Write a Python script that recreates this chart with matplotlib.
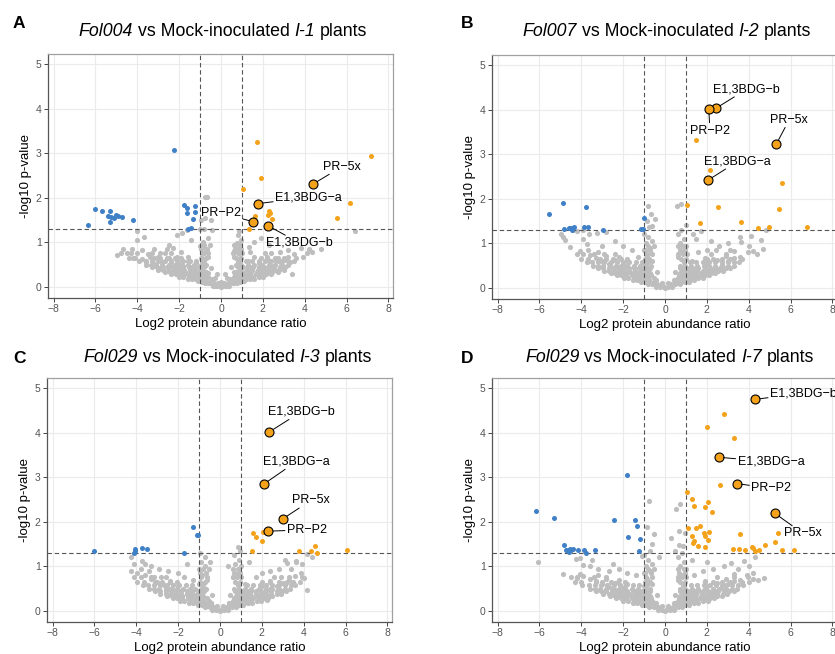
import numpy as np
import matplotlib.pyplot as plt

plt.rcParams['font.family'] = ['Liberation Sans', 'DejaVu Sans']

W, H = 835, 654

GREY = '#bebebe'
BLUE = '#3f80c7'
ORANGE = '#f5a21b'

# ---- values: (log2 ratio, -log10 p) ----
# scattered non-significant proteins
grey_a = [
    (0, 0.0), (-0.3, 0.03), (0.3, 0.03), (-0.6, 0.08), (0.6, 0.08), (-0.15, 0.08), (0.15, 0.08),
    (-0.9, 0.12), (-0.45, 0.14), (0, 0.12), (0.45, 0.14), (0.9, 0.12), (-1.2, 0.17), (1.2, 0.17),
    (-1.5, 0.22), (-1.1, 0.24), (-0.7, 0.22), (-0.3, 0.2), (0.3, 0.2), (0.7, 0.22), (1.1, 0.24), (1.5, 0.22),
    (-1.8, 0.28), (1.8, 0.27), (-2.2, 0.32), (-1.8, 0.36), (-1.4, 0.33), (-1.0, 0.35), (-0.6, 0.32),
    (-0.2, 0.3), (0.2, 0.3), (0.6, 0.34), (1.0, 0.33), (1.4, 0.35), (1.8, 0.36), (2.2, 0.33), (2.6, 0.37),
    (-3.0, 0.42), (-2.6, 0.45), (-2.2, 0.44), (-1.8, 0.46), (-1.4, 0.44), (-0.9, 0.45), (-0.5, 0.43),
    (0.5, 0.44), (0.9, 0.46), (1.5, 0.45), (2.0, 0.44), (2.5, 0.46), (3.0, 0.43), (3.4, 0.3),
    (-3.6, 0.55), (-3.2, 0.52), (-2.8, 0.55), (-2.4, 0.56), (-2.0, 0.53), (-1.6, 0.57), (-1.2, 0.54),
    (-0.8, 0.56), (0.8, 0.55), (1.3, 0.57), (1.8, 0.54), (2.3, 0.57), (2.8, 0.55), (3.3, 0.56), (3.0, 0.6),
    (-4.2, 0.65), (-3.8, 0.62), (-3.4, 0.66), (-3.0, 0.68), (-2.5, 0.64), (-2.1, 0.67), (-1.6, 0.68),
    (-0.9, 0.65), (-0.6, 0.68), (0.6, 0.67), (0.9, 0.64), (1.6, 0.66), (2.2, 0.68), (2.7, 0.65), (3.2, 0.67),
    (3.9, 0.67), (-4.99, 0.71), (-4.5, 0.75), (-4.0, 0.76), (-3.5, 0.74), (-2.9, 0.77), (-2.4, 0.75),
    (-1.9, 0.78), (-0.8, 0.76), (0.62, 0.8), (0.85, 0.75), (1.4, 0.78), (2.1, 0.76), (2.8, 0.78), (3.5, 0.74),
    (4.37, 0.79), (4.1, 0.75), (-4.69, 0.86), (-4.24, 0.84), (-3.8, 0.83), (-3.2, 0.86), (-2.6, 0.84),
    (-2.3, 0.88), (-0.7, 0.86), (0.8, 0.88), (1.34, 0.9), (3.8, 0.88), (4.2, 0.86), (4.76, 0.86), (3.2, 0.83),
    (-4.03, 1.06), (-3.68, 1.11), (-2.09, 1.16), (-1.85, 1.2), (-1.45, 1.05), (-0.85, 1.0), (-0.6, 1.1),
    (0.81, 1.16), (0.94, 1.05), (0.75, 0.98), (1.6, 1.0), (2.3, 0.95), (1.9, 1.1), (-1.0, 0.92), (-2.5, 0.95),
    (-4.03, 1.25), (-1.61, 1.27), (-1.0, 1.31), (-0.8, 1.29), (-0.41, 1.27), (-0.97, 1.5), (-0.46, 1.5),
    (-0.78, 2.01), (-0.65, 2.01), (6.4, 1.25), (0.85, 1.25), (-0.75, 1.55),
]
# dense V-shaped core, one row per -log10 p level
core_a = [
    (0.03, [-0.4, -0.2, 0, 0.2, 0.4]),
    (0.08, [-0.75, -0.55, -0.35, 0.35, 0.55, 0.75]),
    (0.13, [-1.1, -0.9, -0.7, -0.5, 0.5, 0.7, 0.9, 1.1]),
    (0.18, [-1.6, -1.4, -1.2, -0.95, -0.75, -0.45, 0.45, 0.75, 0.95, 1.2, 1.4, 1.6]),
    (0.23, [-2.0, -1.8, -1.55, -1.3, -1.05, -0.85, -0.6, 0.6, 0.85, 1.05, 1.3, 1.55, 1.8, 2.0]),
    (0.28, [-2.4, -2.15, -1.9, -1.65, -1.4, -1.15, -0.9, -0.65, 0.65, 0.9, 1.15, 1.4, 1.65, 1.9, 2.15, 2.4]),
    (0.33, [-2.7, -2.45, -2.2, -1.95, -1.7, -1.45, -1.2, -0.95, -0.7, 0.7, 0.95, 1.2, 1.45, 1.7, 1.95,
            2.2, 2.45, 2.7]),
    (0.38, [-3.0, -2.75, -2.5, -2.25, -2.0, -1.75, -1.5, -1.25, -0.9, 0.9, 1.25, 1.5, 1.75, 2.0, 2.25,
            2.5, 2.75, 3.0]),
    (0.44, [-3.3, -3.05, -2.8, -2.55, -2.3, -2.05, -1.8, -1.55, -1.3, -1.05, -0.8, 0.8, 1.05, 1.3, 1.55,
            1.8, 2.05, 2.3, 2.55, 2.8, 3.05]),
    (0.5, [-3.6, -3.35, -3.1, -2.8, -2.5, -2.2, -1.9, -1.6, -1.3, -0.95, -0.7, 0.7, 0.95, 1.3, 1.6, 1.95,
           2.3, 2.6, 2.9, 3.2]),
    (0.57, [-3.9, -3.6, -3.3, -3.0, -2.7, -2.4, -2.1, -1.8, -1.5, -1.2, -0.85, 0.85, 1.2, 1.5, 1.8, 2.1,
            2.4, 2.65, 2.9, 3.2, 3.5]),
    (0.65, [-4.4, -4.1, -3.2, -2.9, -2.6, -2.2, -1.9, -0.95, -0.7, 0.7, 0.95, 1.9, 2.2, 2.6, 3.0, 3.6]),
    (0.75, [-4.8, -4.3, -3.3, -2.7, -0.9, -0.6, 0.55, 0.8, 1.0, 2.4]),
    (0.85, [-0.95, -0.65, 0.65, 0.95]),
    (0.95, [-0.8, -0.55, 0.6, 0.9]),
]
blue_a = [
    (-2.26, 3.08), (-6.02, 1.76), (-6.36, 1.39), (-5.71, 1.71), (-5.31, 1.70), (-5.40, 1.59), (-5.27, 1.56),
    (-5.32, 1.46), (-5.12, 1.54), (-4.91, 1.59), (-4.75, 1.57), (-5.04, 1.61), (-4.19, 1.50), (-1.78, 1.84),
    (-1.64, 1.78), (-1.23, 1.81), (-1.64, 1.67), (-1.23, 1.69), (-1.32, 1.52), (-1.56, 1.30), (-1.45, 1.33),
]
orange_a = [
    (1.71, 3.26), (1.90, 2.44), (1.07, 2.19), (7.16, 2.95), (6.15, 1.88), (5.53, 1.55), (1.61, 1.59),
    (2.29, 1.71), (2.33, 1.65), (2.26, 1.61), (2.45, 1.52), (1.35, 1.30),
]
names_a = ['PR−5x', 'E1,3BDG−a', 'PR−P2', 'E1,3BDG−b']
hl_a = [(4.40, 2.31), (1.77, 1.87), (1.55, 1.46), (2.26, 1.37)]

grey_b = [
    (0, 0.0), (-0.3, 0.04), (0.3, 0.04), (-0.15, 0.1), (0.15, 0.1), (-0.6, 0.1), (0.6, 0.1), (-0.45, 0.18),
    (0.45, 0.18), (-0.9, 0.15), (0.9, 0.16), (-1.2, 0.2), (1.2, 0.22), (-0.8, 0.28), (0.8, 0.3), (-1.5, 0.28),
    (1.5, 0.28), (-1.1, 0.36), (1.1, 0.38), (-1.8, 0.34), (1.8, 0.32), (-2.1, 0.4), (2.1, 0.38), (-1.5, 0.44),
    (1.5, 0.45), (-2.4, 0.46), (2.4, 0.45), (-2.0, 0.52), (2.0, 0.55), (-2.7, 0.54), (2.7, 0.52), (-2.4, 0.62),
    (2.5, 0.63), (-3.0, 0.6), (3.0, 0.6), (-3.3, 0.66), (3.3, 0.66), (-2.8, 0.72), (2.9, 0.72), (-3.6, 0.74),
    (3.6, 0.7), (-3.2, 0.8), (3.3, 0.82), (-3.67, 0.84), (3.95, 0.81), (4.19, 0.83), (2.45, 0.85), (3.1, 0.85),
    (-1.8, 0.6), (1.9, 0.68), (-2.2, 0.7), (-0.9, 0.3), (-0.7, 0.45), (-1.0, 0.55), (-0.6, 0.6), (-0.85, 0.72),
    (-1.0, 0.85), (-0.7, 0.9), (-0.9, 1.0), (-0.6, 1.05), (-0.8, 1.15), (-1.0, 1.2), (0.7, 0.45), (0.9, 0.58),
    (0.6, 0.7), (0.85, 0.8), (1.0, 0.95), (0.7, 1.0), (0.9, 1.1), (0.6, 1.2), (0.5, 0.35), (-0.4, 0.35),
    (-0.81, 1.83), (-0.65, 1.66), (-0.86, 1.51), (-0.49, 1.55), (-0.76, 1.36), (0.57, 1.84), (0.78, 1.88),
    (0.99, 1.41), (1.34, 1.21), (1.74, 1.27), (1.5, 1.1), (2.2, 1.05), (-0.6, 1.4), (0.75, 1.3),
    (-4.95, 1.21), (-4.87, 1.14), (-4.79, 1.08), (-4.55, 0.91), (-4.23, 1.28), (-4.07, 0.82), (-3.91, 1.09),
    (-3.75, 0.98), (-3.63, 1.21), (-3.27, 1.23), (-2.8, 1.26), (-2.4, 1.05), (-2.0, 0.95), (-3.0, 0.95),
    (-1.6, 0.85), (-1.3, 0.7), (-4.4, 1.3), (-3.9, 1.3), (3.57, 1.14), (3.65, 1.02), (4.13, 1.17), (4.6, 1.08),
    (4.81, 1.29), (4.0, 0.95), (3.0, 1.0), (4.4, 0.75), (4.7, 0.88), (2.6, 0.95), (1.3, 0.6), (1.6, 0.8),
    (2.0, 0.85),
]
core_b = [
    (0.03, [-0.45, -0.25, -0.05, 0.15, 0.35]),
    (0.08, [-0.8, -0.6, -0.4, 0.3, 0.5, 0.7]),
    (0.13, [-1.15, -0.95, -0.75, -0.55, 0.55, 0.75, 0.95, 1.15]),
    (0.18, [-1.55, -1.35, -1.15, -0.95, -0.75, -0.5, 0.5, 0.8, 1.0, 1.2, 1.4]),
    (0.23, [-1.95, -1.75, -1.5, -1.25, -1.0, -0.8, -0.55, 0.6, 0.85, 1.1, 1.35, 1.6, 1.8]),
    (0.28, [-2.3, -2.1, -1.85, -1.6, -1.35, -1.1, -0.9, -0.65, 0.65, 0.9, 1.15, 1.4, 1.65, 1.9, 2.1]),
    (0.33, [-2.6, -2.4, -2.15, -1.9, -1.65, -1.4, -1.15, -0.9, -0.7, 0.7, 0.9, 1.2, 1.45, 1.7, 1.95, 2.2,
            2.4]),
    (0.38, [-2.9, -2.7, -2.45, -2.2, -1.95, -1.7, -1.45, -1.2, -0.85, 0.85, 1.3, 1.55, 1.8, 2.05, 2.3,
            2.55, 2.75]),
    (0.44, [-3.2, -2.95, -2.7, -2.45, -2.2, -1.95, -1.7, -1.45, -1.2, -1.0, -0.75, 0.8, 1.05, 1.3, 1.6,
            1.9, 2.15, 2.4, 2.65, 2.9, 3.1]),
    (0.5, [-3.45, -3.2, -2.95, -2.65, -2.35, -2.1, -1.8, -1.5, -1.2, -0.9, -0.65, 0.7, 0.95, 1.25, 1.55,
           1.85, 2.1, 2.4, 2.7, 3.0, 3.3]),
    (0.57, [-3.75, -3.5, -3.2, -2.9, -2.6, -2.3, -2.0, -1.7, -1.4, -1.1, -0.8, 0.9, 1.2, 1.5, 1.8, 2.1,
            2.4, 2.7, 3.0, 3.3, 3.55]),
    (0.65, [-4.0, -3.7, -3.1, -2.8, -2.5, -2.1, -1.8, -0.95, -0.75, 0.75, 1.0, 2.0, 2.3, 2.7, 3.1, 3.7]),
    (0.75, [-4.2, -3.9, -3.4, -2.9, -2.4, -0.85, -0.6, 0.6, 0.85, 1.05, 2.2, 2.9]),
    (0.85, [-0.95, -0.7, 0.7, 0.95]),
    (0.95, [-0.8, -0.55, 0.6, 0.85]),
]
blue_b = [
    (-4.88, 1.91), (-5.56, 1.67), (-3.79, 1.81), (-4.81, 1.32), (-4.59, 1.34), (-4.48, 1.35), (-4.37, 1.36),
    (-4.43, 1.29), (-3.87, 1.37), (-3.68, 1.37), (-2.95, 1.29), (-1.02, 1.57), (-1.16, 1.33), (-1.04, 1.33),
]
orange_b = [
    (1.47, 3.31), (2.14, 2.64), (5.61, 2.36), (1.05, 1.85), (2.52, 1.81), (5.43, 1.77), (1.67, 1.45),
    (3.63, 1.49), (4.45, 1.34), (4.97, 1.36), (6.79, 1.37),
]
names_b = ['E1,3BDG−b', 'PR−P2', 'PR−5x', 'E1,3BDG−a']
hl_b = [(2.42, 4.03), (2.09, 4.02), (5.32, 3.23), (2.06, 2.42)]

grey_c = [
    (0, 0.0), (-0.3, 0.04), (0.3, 0.04), (-0.15, 0.1), (0.15, 0.1), (-0.6, 0.1), (0.6, 0.1), (-0.45, 0.18),
    (0.45, 0.18), (-0.9, 0.15), (0.9, 0.15), (-1.2, 0.2), (1.2, 0.22), (-0.8, 0.28), (0.8, 0.28), (-1.5, 0.26),
    (1.5, 0.28), (-1.1, 0.36), (1.1, 0.36), (-1.8, 0.34), (1.8, 0.33), (-2.1, 0.42), (2.1, 0.4), (-1.5, 0.45),
    (1.5, 0.44), (-2.4, 0.5), (2.4, 0.48), (-2.0, 0.55), (2.0, 0.55), (-2.7, 0.58), (2.7, 0.56), (-2.4, 0.66),
    (2.4, 0.66), (-3.0, 0.64), (3.0, 0.62), (-3.3, 0.72), (3.3, 0.7), (-2.8, 0.76), (2.9, 0.76), (-3.6, 0.8),
    (3.6, 0.78), (-3.16, 0.77), (-3.4, 0.89), (-3.99, 0.85), (-4.24, 0.9), (2.26, 0.25), (4.02, 0.74),
    (4.18, 0.47), (3.85, 0.85), (-0.9, 0.35), (-0.7, 0.5), (-1.0, 0.6), (-0.6, 0.7), (-0.85, 0.8), (-1.0, 0.95),
    (-0.7, 1.0), (-0.9, 1.1), (0.7, 0.45), (0.9, 0.6), (0.6, 0.75), (0.85, 0.85), (1.0, 1.0), (0.7, 1.05),
    (0.9, 1.15), (0.5, 0.35), (-0.4, 0.35), (1.2, 0.6), (-1.3, 0.7), (-0.96, 1.3), (-0.73, 1.22), (0.67, 1.26),
    (0.86, 1.43), (0.95, 1.35), (-0.5, 1.1), (0.4, 1.0), (1.4, 1.1), (-1.6, 1.05), (-4.27, 1.21), (-3.72, 1.11),
    (-3.6, 1.05), (-4.1, 1.05), (-3.3, 1.0), (-2.9, 0.95), (-2.5, 0.9), (-2.0, 0.85), (-1.7, 0.75), (-3.8, 0.95),
    (3.22, 1.07), (3.62, 1.1), (3.94, 1.05), (4.17, 1.28), (3.61, 1.11), (3.4, 0.95), (2.8, 0.95), (2.4, 0.9),
    (2.0, 0.85), (1.7, 0.75), (3.1, 1.15), (4.4, 1.2),
]
core_c = [
    (0.03, [-0.4, -0.2, 0, 0.2, 0.4]),
    (0.08, [-0.7, -0.5, -0.3, 0.35, 0.55, 0.75]),
    (0.13, [-1.05, -0.85, -0.65, -0.45, 0.5, 0.7, 0.9, 1.1]),
    (0.18, [-1.5, -1.3, -1.1, -0.9, -0.7, -0.45, 0.45, 0.75, 0.95, 1.15, 1.35, 1.55]),
    (0.23, [-1.9, -1.7, -1.45, -1.2, -1.0, -0.8, -0.55, 0.6, 0.85, 1.05, 1.3, 1.5, 1.75, 1.95]),
    (0.28, [-2.25, -2.05, -1.8, -1.55, -1.3, -1.05, -0.85, -0.6, 0.65, 0.9, 1.1, 1.35, 1.6, 1.85, 2.1,
            2.3]),
    (0.33, [-2.55, -2.3, -2.05, -1.8, -1.55, -1.3, -1.05, -0.8, 0.75, 1.0, 1.25, 1.5, 1.75, 2.0, 2.25,
            2.5]),
    (0.38, [-2.85, -2.6, -2.35, -2.1, -1.85, -1.6, -1.35, -1.1, -0.85, 0.85, 1.2, 1.45, 1.7, 1.95, 2.2,
            2.45, 2.7, 2.9]),
    (0.44, [-3.1, -2.85, -2.6, -2.35, -2.1, -1.85, -1.6, -1.35, -1.0, -0.75, 0.8, 1.05, 1.35, 1.7, 1.95,
            2.2, 2.45, 2.7, 2.95, 3.15]),
    (0.5, [-3.4, -3.15, -2.9, -2.6, -2.3, -2.05, -1.75, -1.45, -1.2, -0.9, -0.65, 0.65, 0.9, 1.2, 1.5,
           1.85, 2.2, 2.5, 2.8, 3.1, 3.35]),
    (0.57, [-3.7, -3.45, -3.15, -2.85, -2.55, -2.25, -1.95, -1.65, -1.35, -0.8, 0.85, 1.3, 1.6, 1.9,
            2.2, 2.5, 2.8, 3.1, 3.4, 3.6]),
    (0.65, [-3.95, -3.65, -3.1, -2.75, -2.4, -2.05, -0.95, -0.7, 0.7, 0.95, 2.0, 2.4, 2.8, 3.2, 3.5,
            3.8]),
    (0.75, [-4.1, -3.8, -3.3, -2.6, -0.9, -0.6, 0.6, 0.8, 1.0, 2.6, 3.3, 3.9]),
    (0.85, [-0.95, -0.65, 0.65, 0.95]),
    (0.95, [-0.8, -0.55, 0.6, 0.85]),
]
blue_c = [
    (-6.0, 1.34), (-4.07, 1.39), (-4.08, 1.35), (-4.10, 1.29), (-3.75, 1.41), (-3.51, 1.40), (-1.71, 1.30),
    (-1.29, 1.89), (-1.10, 1.70), (-1.05, 1.70),
]
orange_c = [
    (1.56, 1.76), (1.71, 1.67), (2.06, 1.77), (2.03, 1.58), (1.55, 1.34), (3.78, 1.34), (4.34, 1.34),
    (4.55, 1.45), (4.64, 1.31), (6.09, 1.36),
]
names_c = ['E1,3BDG−b', 'E1,3BDG−a', 'PR−5x', 'PR−P2']
hl_c = [(2.36, 4.02), (2.10, 2.85), (3.01, 2.07), (2.30, 1.79)]

grey_d = [
    (0, 0.0), (-0.3, 0.04), (0.3, 0.04), (-0.15, 0.1), (0.15, 0.1), (-0.6, 0.1), (0.6, 0.1), (-0.45, 0.18),
    (0.45, 0.18), (-0.9, 0.15), (0.9, 0.16), (-1.2, 0.2), (1.2, 0.22), (-0.8, 0.28), (0.8, 0.3), (-1.5, 0.28),
    (1.5, 0.28), (-1.1, 0.36), (1.1, 0.38), (-1.8, 0.34), (1.8, 0.32), (-2.1, 0.4), (2.1, 0.38), (-1.5, 0.44),
    (1.5, 0.45), (-2.4, 0.46), (2.4, 0.45), (-2.0, 0.52), (2.0, 0.55), (-2.7, 0.54), (2.7, 0.52), (-2.4, 0.62),
    (2.5, 0.63), (-3.0, 0.6), (3.0, 0.6), (-3.3, 0.66), (3.3, 0.66), (-2.8, 0.72), (2.9, 0.72), (-3.6, 0.72),
    (3.6, 0.7), (-3.2, 0.8), (3.3, 0.82), (-3.9, 0.78), (3.9, 0.8), (-4.2, 0.74), (4.2, 0.72), (-1.8, 0.6),
    (1.9, 0.68), (-2.2, 0.7), (-0.9, 0.3), (-0.7, 0.45), (-1.0, 0.55), (-0.6, 0.6), (-0.85, 0.72), (-1.0, 0.85),
    (-0.7, 0.9), (-0.9, 1.0), (-0.6, 1.05), (-0.8, 1.15), (-1.0, 1.25), (0.7, 0.45), (0.9, 0.58), (0.6, 0.7),
    (0.85, 0.8), (1.0, 0.95), (0.7, 1.0), (0.9, 1.1), (0.6, 1.2), (0.5, 0.35), (-0.4, 0.35), (0.8, 1.3),
    (-0.7, 1.35), (-0.78, 2.46), (-0.86, 1.89), (-0.51, 1.72), (-0.6, 1.5), (0.54, 2.29), (0.70, 2.41),
    (0.29, 1.64), (0.68, 1.79), (0.68, 1.49), (0.84, 1.45), (-1.11, 1.24), (0.5, 1.35), (0.95, 1.75),
    (-0.3, 1.2), (-6.08, 1.09), (-4.88, 0.83), (-4.24, 1.17), (-4.08, 1.18), (-3.92, 1.04), (-4.08, 0.83),
    (-3.6, 1.0), (-3.2, 0.95), (-2.7, 0.9), (-2.2, 0.95), (-1.8, 0.85), (-1.4, 0.8), (-3.5, 1.15), (-2.5, 1.05),
    (3.15, 1.08), (3.79, 1.13), (4.19, 0.85), (4.43, 0.7), (4.75, 0.74), (4.3, 1.21), (3.5, 0.95), (2.8, 1.0),
    (2.3, 0.95), (1.8, 0.9), (1.4, 0.8), (4.0, 1.0), (2.0, 1.1), (1.3, 1.15),
]
core_d = [
    (0.03, [-0.35, -0.15, 0.05, 0.25, 0.45]),
    (0.08, [-0.75, -0.55, -0.35, 0.4, 0.6, 0.8]),
    (0.13, [-1.1, -0.9, -0.7, -0.5, 0.55, 0.75, 0.95, 1.15]),
    (0.18, [-1.55, -1.35, -1.15, -0.95, -0.75, -0.5, 0.5, 0.75, 0.95, 1.15, 1.4, 1.6]),
    (0.23, [-2.0, -1.75, -1.5, -1.25, -1.05, -0.85, -0.6, 0.6, 0.85, 1.05, 1.3, 1.55, 1.8, 2.05]),
    (0.28, [-2.35, -2.1, -1.85, -1.6, -1.35, -1.1, -0.9, -0.65, 0.65, 0.9, 1.15, 1.4, 1.65, 1.9, 2.15,
            2.35]),
    (0.33, [-2.65, -2.4, -2.15, -1.9, -1.65, -1.4, -1.15, -0.9, -0.7, 0.7, 0.95, 1.2, 1.45, 1.7, 2.0,
            2.25, 2.5, 2.7]),
    (0.38, [-2.95, -2.7, -2.45, -2.2, -1.95, -1.7, -1.45, -1.2, -0.9, 0.9, 1.25, 1.5, 1.75, 2.0, 2.25,
            2.5, 2.75, 2.95]),
    (0.44, [-3.3, -3.05, -2.8, -2.55, -2.3, -2.05, -1.8, -1.55, -1.3, -1.1, -0.8, 0.8, 1.1, 1.35, 1.6,
            1.8, 2.05, 2.3, 2.55, 2.8, 3.05, 3.3]),
    (0.5, [-3.6, -3.35, -3.1, -2.8, -2.5, -2.2, -1.9, -1.6, -1.3, -0.95, -0.7, 0.7, 0.95, 1.3, 1.6, 1.9,
           2.3, 2.6, 2.9, 3.2, 3.45]),
    (0.57, [-3.95, -3.65, -3.35, -3.05, -2.75, -2.45, -2.15, -1.85, -1.55, -1.25, -0.85, 0.85, 1.25,
            1.55, 1.85, 2.15, 2.45, 2.7, 2.9, 3.2, 3.5, 3.75]),
    (0.65, [-4.3, -4.0, -3.3, -3.0, -2.6, -2.25, -1.9, -0.95, -0.7, 0.7, 0.95, 1.9, 2.3, 2.7, 3.1, 3.7,
            4.0]),
    (0.75, [-4.5, -4.2, -3.4, -2.8, -0.9, -0.6, 0.6, 0.8, 1.0, 2.5, 3.3, 3.95]),
    (0.85, [-0.95, -0.65, 0.65, 0.95]),
    (0.95, [-0.8, -0.55, 0.6, 0.9]),
]
blue_d = [
    (-6.16, 2.24), (-5.29, 2.08), (-2.44, 2.03), (-1.83, 3.06), (-1.42, 2.05), (-1.35, 1.90), (-1.75, 1.66),
    (-1.18, 1.62), (-1.23, 1.34), (-4.81, 1.47), (-4.72, 1.37), (-4.63, 1.36), (-4.55, 1.39), (-4.48, 1.37),
    (-4.40, 1.38), (-4.58, 1.33), (-4.17, 1.36), (-3.85, 1.36), (-3.76, 1.30), (-3.33, 1.36),
]
orange_d = [
    (2.83, 4.42), (2.01, 4.12), (3.28, 3.89), (2.64, 2.83), (1.05, 2.68), (1.27, 2.52), (1.37, 2.35),
    (2.04, 2.44), (1.89, 2.34), (2.25, 2.21), (1.08, 1.85), (1.48, 1.87), (1.69, 1.90), (1.88, 1.75),
    (1.91, 1.69), (2.12, 1.78), (2.04, 1.60), (1.29, 1.68), (1.32, 1.53), (1.40, 1.57), (1.56, 1.45),
    (1.93, 1.44), (3.60, 1.73), (3.26, 1.39), (3.55, 1.38), (3.84, 1.36), (4.14, 1.43), (4.19, 1.41),
    (4.30, 1.34), (4.51, 1.36), (4.78, 1.47), (5.27, 1.54), (5.40, 1.75), (5.57, 1.36), (6.15, 1.36),
]
names_d = ['E1,3BDG−b', 'E1,3BDG−a', 'PR−P2', 'PR−5x']
hl_d = [(4.30, 4.75), (2.56, 3.45), (3.42, 2.86), (5.25, 2.19)]

titles = [
    [('Fol004', 'italic'), ('vs Mock-inoculated', 'normal'), ('I-1', 'italic'), ('plants', 'normal')],
    [('Fol007', 'italic'), ('vs Mock-inoculated', 'normal'), ('I-2', 'italic'), ('plants', 'normal')],
    [('Fol029', 'italic'), ('vs Mock-inoculated', 'normal'), ('I-3', 'italic'), ('plants', 'normal')],
    [('Fol029', 'italic'), ('vs Mock-inoculated', 'normal'), ('I-7', 'italic'), ('plants', 'normal')],
]
letters = ['A', 'B', 'C', 'D']

# ---- layout (pixels from top-left) ----
boxes = [(48, 54, 393, 298), (492, 55, 837, 299), (47, 378, 392, 622), (492, 378, 837, 622)]
title_pos = [(223, 36), (667, 36), (228, 361.5), (669.5, 361.5)]
letter_pos = [(13, 28), (461, 28), (13, 363), (461, 363)]
label_pos = [
    [(5.78, 2.70), (4.18, 2.01), (0.01, 1.66), (3.73, 0.99)],
    [(3.90, 4.46), (2.15, 3.53), (5.94, 3.78), (3.47, 2.84)],
    [(3.87, 4.47), (3.64, 3.35), (4.34, 2.48), (4.15, 1.82)],
    [(6.61, 4.89), (5.06, 3.35), (5.08, 2.75), (6.59, 1.74)],
]

fig = plt.figure(figsize=(W / 100, H / 100), dpi=100)
renderer = fig.canvas.get_renderer()


def expand(rows):
    return [(x, y) for y, xs in rows for x in xs]


def volcano(box, grey, core, blue, orange, names, hl, labels):
    left, top, right, bottom = box
    ax = fig.add_axes([left / W, 1 - bottom / H, (right - left) / W, (bottom - top) / H])
    ax.set_xlim(-8.27, 8.22)
    ax.set_ylim(-0.25, 5.23)
    ax.set_xticks(range(-8, 9, 2))
    ax.set_yticks(range(0, 6))
    ax.grid(color='#ebebeb', lw=0.8)
    ax.set_axisbelow(True)
    ax.tick_params(length=3, width=0.7, color='#444444', labelsize=7.5, labelcolor='#555555', pad=1.5)
    for side in ('left', 'bottom'):
        ax.spines[side].set_color('#555555')
        ax.spines[side].set_linewidth(0.9)
    for side in ('top', 'right'):
        ax.spines[side].set_color('#a0a0a0')
        ax.spines[side].set_linewidth(0.9)

    g = np.array(expand(core) + grey)
    ax.scatter(g[:, 0], g[:, 1], s=14, c=GREY, lw=0, zorder=2)
    for x in (-1, 1):
        ax.axvline(x, color='#555555', lw=0.8, ls=(0, (4, 2.5)), zorder=2.5)
    ax.axhline(1.3, color='#555555', lw=0.8, ls=(0, (4, 2.5)), zorder=2.5)
    b = np.array(blue)
    ax.scatter(b[:, 0], b[:, 1], s=13, c=BLUE, lw=0, zorder=3)
    o = np.array(orange)
    ax.scatter(o[:, 0], o[:, 1], s=13, c=ORANGE, lw=0, zorder=3)
    h = np.array(hl)
    ax.scatter(h[:, 0], h[:, 1], s=42, c=ORANGE, edgecolors='black', lw=0.8, zorder=5)
    for name, pt, lp in zip(names, hl, labels):
        ax.annotate(name, xy=pt, xytext=lp, textcoords='data', ha='center', va='center',
                    fontsize=9, zorder=6, annotation_clip=False,
                    bbox=dict(boxstyle='square,pad=0.1', fc='none', ec='none'),
                    arrowprops=dict(arrowstyle='-', color='black', lw=0.7, shrinkA=0.5, shrinkB=3.5))

    ax.set_xlabel('Log2 protein abundance ratio', fontsize=9.5, labelpad=3)
    ax.set_ylabel('-log10 p-value', fontsize=9.5, labelpad=3)
    return ax


def text_width(s, **kw):
    t = fig.text(0, 0, s, transform=None, **kw)
    w = t.get_window_extent(renderer).width
    t.remove()
    return w


def mixed_title(cx, cy, parts, size=12.8):
    widths = [text_width(s, fontsize=size, style=st) for s, st in parts]
    gap = text_width('a a', fontsize=size) - text_width('aa', fontsize=size)
    total = sum(widths) + gap * (len(parts) - 1)
    x = cx - total / 2
    for (s, st), w in zip(parts, widths):
        fig.text(x, H - cy, s, transform=None, fontsize=size, style=st, ha='left', va='baseline')
        x += w + gap


data = [
    (grey_a, core_a, blue_a, orange_a, names_a, hl_a),
    (grey_b, core_b, blue_b, orange_b, names_b, hl_b),
    (grey_c, core_c, blue_c, orange_c, names_c, hl_c),
    (grey_d, core_d, blue_d, orange_d, names_d, hl_d),
]

for i in range(4):
    volcano(boxes[i], *data[i], label_pos[i])
    mixed_title(*title_pos[i], titles[i])
    lx, ly = letter_pos[i]
    fig.text(lx, H - ly, letters[i], transform=None, fontsize=12.5, fontweight='bold',
             ha='left', va='baseline')

fig.savefig('out.png', dpi=100)
